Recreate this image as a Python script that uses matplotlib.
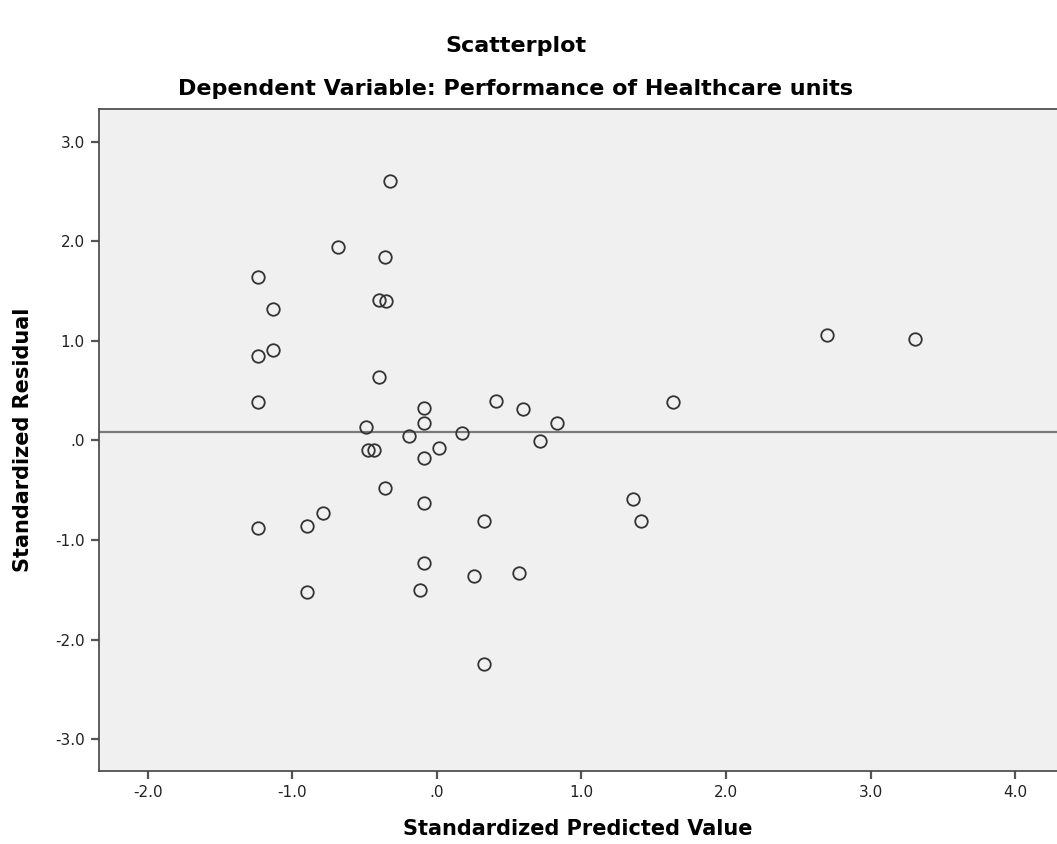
import matplotlib.pyplot as plt
from matplotlib.ticker import FuncFormatter

# the reference chart looks stretched sideways, DejaVu's wider glyphs come closer than Arial
plt.rcParams['font.family'] = ['DejaVu Sans']

# Standardized predicted values (x) and standardized residuals (y)
pred = [-0.325, -0.687, -0.358, -1.237, -1.135, -0.399, -0.355, -1.135, -1.237, -0.399,
        -1.237, 2.699, 3.310, -0.088, 0.410, 0.597, 1.633, -0.088, 0.833, -0.491,
        -0.194, 0.173, 0.711, -0.475, -0.436, 0.012, -0.088, -0.360, -0.088, 1.358,
        1.414, 0.327, -0.791, -0.898, -1.237, -0.088, 0.254, 0.565, -0.120, -0.898,
        0.327]
resid = [2.610, 1.945, 1.840, 1.643, 1.319, 1.409, 1.402, 0.907, 0.847, 0.636,
         0.382, 1.061, 1.018, 0.327, 0.398, 0.317, 0.388, 0.177, 0.171, 0.137,
         0.043, 0.080, -0.004, -0.094, -0.094, -0.080, -0.178, -0.476, -0.627, -0.587,
         -0.808, -0.811, -0.727, -0.864, -0.884, -1.233, -1.363, -1.336, -1.501, -1.524,
         -2.250]
ref_line = 0.086

x_ticks = [-2, -1, 0, 1, 2, 3, 4]
y_ticks = [-3, -2, -1, 0, 1, 2, 3]


def spss_fmt(v, pos):
    # SPSS drops the leading zero: ".0" instead of "0.0"
    s = f"{v:.1f}"
    if s in ("0.0", "-0.0"):
        return ".0"
    return s


fig = plt.figure(figsize=(10.57, 8.44), dpi=100)
ax = fig.add_axes([0.0934, 0.0865, 0.9066, 0.7844])
ax.set_facecolor('#f0f0f0')

ax.plot(pred, resid, linestyle='none', marker='o', markersize=9,
        markerfacecolor='none', markeredgecolor='#333333', markeredgewidth=1.3)
ax.axhline(ref_line, color='#7a7a7a', linewidth=1.6, zorder=1)

ax.set_xlim(-2.34, 4.29)
ax.set_ylim(-3.32, 3.33)
ax.set_xticks(x_ticks)
ax.set_yticks(y_ticks)
ax.xaxis.set_major_formatter(FuncFormatter(spss_fmt))
ax.yaxis.set_major_formatter(FuncFormatter(spss_fmt))
ax.tick_params(direction='out', length=6, width=1.6, color='#555555',
               labelsize=11, labelcolor='#222222', pad=4)

for side in ['left', 'bottom', 'top']:
    ax.spines[side].set_color('#444444')
    ax.spines[side].set_linewidth(1.2)
ax.spines['right'].set_visible(False)

ax.set_xlabel('Standardized Predicted Value', fontsize=15, fontweight='bold', labelpad=14)
ax.set_ylabel('Standardized Residual', fontsize=15, fontweight='bold')
ax.yaxis.set_label_coords(-0.069, 0.5)

fig.text(0.488, 0.946, 'Scatterplot', ha='center', va='center',
         fontsize=16, fontweight='bold')
fig.text(0.488, 0.895, 'Dependent Variable: Performance of Healthcare units',
         ha='center', va='center', fontsize=16, fontweight='bold')

fig.savefig('out.png', dpi=100)
